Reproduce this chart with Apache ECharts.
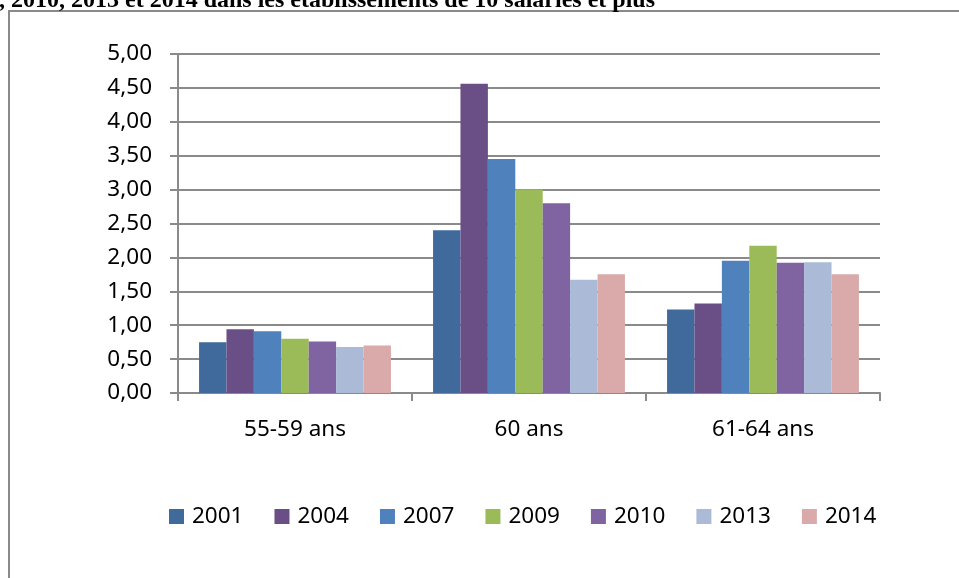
<!DOCTYPE html>
<html>
<head>
<meta charset="utf-8">
<script src="https://cdn.jsdelivr.net/npm/echarts@6/dist/echarts.min.js"></script>
<style>
html,body{margin:0;padding:0;background:#fff;}
#chart{width:959px;height:578px;}
</style>
</head>
<body>
<div id="chart"></div>
<script>
const categories = ['55-59 ans', '60 ans', '61-64 ans'];
const years = ['2001', '2004', '2007', '2009', '2010', '2013', '2014'];
const v2001 = [0.75, 2.40, 1.23];
const v2004 = [0.94, 4.56, 1.32];
const v2007 = [0.91, 3.45, 1.95];
const v2009 = [0.80, 3.00, 2.17];
const v2010 = [0.76, 2.80, 1.92];
const v2013 = [0.68, 1.67, 1.93];
const v2014 = [0.70, 1.75, 1.75];
const seriesValues = [v2001, v2004, v2007, v2009, v2010, v2013, v2014];
const colors = ['#3F6A9B', '#6A4E86', '#4F81BD', '#9BBB59', '#8064A2', '#AABAD7', '#D9AAA9'];
const titleText = ', 2010, 2013 et 2014 dans les établissements de 10 salariés et plus';

const chart = echarts.init(document.getElementById('chart'), null, {renderer: 'canvas'});
const font = '"Noto Sans", sans-serif';
const fs = 22.5;
chart.setOption({
  animation: false,
  backgroundColor: '#ffffff',
  color: colors,
  graphic: [
    {type: 'rect', shape: {x: 9, y: 11, width: 1000, height: 620}, style: {fill: 'none', stroke: '#8a8a8a', lineWidth: 2}, silent: true},
    {type: 'text', x: -1, y: 12.5, style: {text: titleText, font: 'bold 24px "Liberation Serif", serif', fill: '#000', verticalAlign: 'bottom', align: 'left'}, silent: true}
  ],
  grid: {left: 178, right: 79, top: 54, bottom: 185, containLabel: false},
  legend: {
    data: years,
    left: 164, top: 500,
    itemWidth: 15, itemHeight: 15, itemGap: 31,
    icon: 'rect',
    textStyle: {fontFamily: font, fontSize: fs, color: '#000', padding: [0, 0, 0, 3]}
  },
  xAxis: {
    type: 'category',
    data: categories,
    axisLine: {lineStyle: {color: '#8a8a8a', width: 2}},
    axisTick: {show: true, length: 8, lineStyle: {color: '#8a8a8a', width: 2}, alignWithLabel: false},
    axisLabel: {fontFamily: font, fontSize: fs, color: '#000', margin: 25}
  },
  yAxis: {
    type: 'value',
    min: 0, max: 5, interval: 0.5,
    axisLine: {show: true, lineStyle: {color: '#8a8a8a', width: 2}},
    axisTick: {show: true, length: 8, lineStyle: {color: '#8a8a8a', width: 2}},
    splitLine: {lineStyle: {color: '#8a8a8a', width: 2}},
    axisLabel: {fontFamily: font, fontSize: fs, color: '#000', margin: 26,
      formatter: v => v.toFixed(2).replace('.', ',')}
  },
  series: years.map((y, i) => ({
    name: y,
    type: 'bar',
    data: seriesValues[i],
    barGap: '0%',
    barCategoryGap: '18%',
    itemStyle: {color: colors[i]}
  }))
});
</script>
</body>
</html>
